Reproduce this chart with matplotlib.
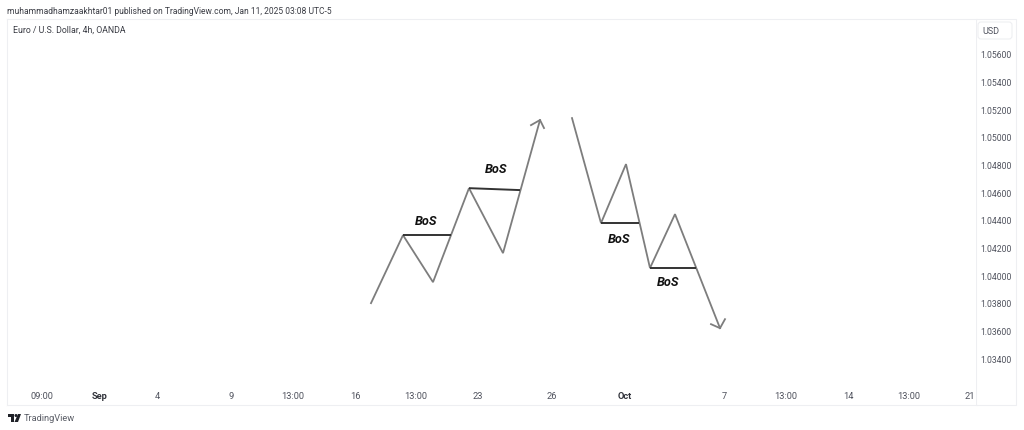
import matplotlib
matplotlib.use("Agg")
import matplotlib.pyplot as plt
from matplotlib.patches import FancyBboxPatch, Polygon, Circle, Rectangle
from matplotlib.transforms import Affine2D

plt.rcParams['font.family'] = ['Roboto', 'DejaVu Sans']

W, H = 1024, 431
# x values are chart-time positions along the axis
up_x = [371, 403, 433, 469, 503, 540]
up_p = [1.03797, 1.04289, 1.03949, 1.04629, 1.04159, 1.05122]
up_head_x = [531, 540, 544]
up_head_p = [1.05085, 1.05122, 1.05064]
down_x = [572, 601, 626, 650, 675, 720]
down_p = [1.05136, 1.04376, 1.04803, 1.04051, 1.04441, 1.03616]
down_head_x = [711, 720, 725]
down_head_p = [1.03645, 1.03616, 1.03681]
bos_x = [(403, 451), (469, 520), (601, 639), (650, 696)]
bos_p = [(1.04289, 1.04289), (1.04629, 1.04615), (1.04376, 1.04376), (1.04051, 1.04051)]
bos_label_x = [426, 496, 619, 668]
bos_label_p = [1.04392, 1.04769, 1.04268, 1.03952]
price_ticks = [1.056, 1.054, 1.052, 1.050, 1.048, 1.046, 1.044, 1.042, 1.040, 1.038, 1.036, 1.034]
time_ticks = [42, 100, 157, 231, 293, 355, 416, 478, 552, 625, 724, 786, 848, 909, 970]
time_labels = ["09:00", "Sep", "4", "9", "13:00", "16", "13:00", "23", "26", "Oct", "7", "13:00", "14", "13:00", "21"]
bold_labels = {"Sep", "Oct"}

LINE = "#7d7d7d"
DARK = "#333333"
TXT = "#50535e"
EDGE = "#eeeff2"

fig = plt.figure(figsize=(W / 100, H / 100), dpi=100, facecolor="white")
L, R, T, B = 7, 976, 20, 406
ax = fig.add_axes([L / W, 1 - B / H, (R - L) / W, (B - T) / H])
ax.set_xlim(L, R)
ax.set_ylim(1.03060, 1.05853)
for s in ax.spines.values():
    s.set_color(EDGE)
    s.set_linewidth(0.8)
ax.spines["right"].set_visible(False)

ax.plot(up_x, up_p, color=LINE, lw=1.3, solid_joinstyle="miter")
ax.plot(up_head_x, up_head_p, color=LINE, lw=1.3)
ax.plot(down_x, down_p, color=LINE, lw=1.3, solid_joinstyle="miter")
ax.plot(down_head_x, down_head_p, color=LINE, lw=1.3)
for xs, ps in zip(bos_x, bos_p):
    ax.plot(xs, ps, color=DARK, lw=1.4, solid_capstyle="butt")
for x, p in zip(bos_label_x, bos_label_p):
    ax.text(x, p, "BoS", ha="center", va="center", fontsize=9.2,
            fontstyle="italic", fontweight="bold", color="#111111")

ax.yaxis.tick_right()
ax.set_yticks(price_ticks, [f"{v:.5f}" for v in price_ticks])
ax.tick_params(axis="y", length=0, pad=3, labelsize=6.2, labelcolor=TXT)
ax.set_xticks(time_ticks, time_labels)
ax.tick_params(axis="x", length=0, pad=-10, labelsize=6.7, labelcolor=TXT)
for lab in ax.get_xticklabels():
    if lab.get_text() in bold_labels:
        lab.set_fontweight("bold")
        lab.set_color("#30323a")

px = Affine2D().scale(1, -1).translate(0, H)  # figure pixels, y measured from top
fig.add_artist(Rectangle((976, 20), 40, 386, transform=px, fc="white", ec=EDGE, lw=0.8))
fig.add_artist(FancyBboxPatch((978, 23), 34, 17, boxstyle="round,pad=0,rounding_size=3",
                              transform=px, fc="white", ec=EDGE, lw=0.8))
ax.set_zorder(2)

def t(x, y, s, **kw):
    fig.text(x / W, 1 - y / H, s, va="center", **kw)

t(7, 11, "muhammadhamzaakhtar01 published on TradingView.com, Jan 11, 2025 03:08 UTC-5",
  fontsize=6.13, color="#3a3c44")
t(13, 30, "Euro / U.S. Dollar, 4h, OANDA", fontsize=6.3, color="#3a3c44")
t(982, 31, "USD", fontsize=6.5, color=TXT)
t(24, 419, "TradingView", fontsize=6.7, color="#5a5d66")

# TradingView logo mark
LOGO = "#1f2128"
fig.add_artist(Polygon([(8, 415), (14, 415), (14, 423), (11, 423), (11, 418), (8, 418)],
                       transform=px, fc=LOGO, ec="none"))
fig.add_artist(Circle((16, 416.5), 1.5, transform=px, fc=LOGO, ec="none"))
fig.add_artist(Polygon([(18, 415), (21, 415), (18, 423), (14.5, 423)],
                       transform=px, fc=LOGO, ec="none"))

fig.savefig("out.png", dpi=100, facecolor="white")
